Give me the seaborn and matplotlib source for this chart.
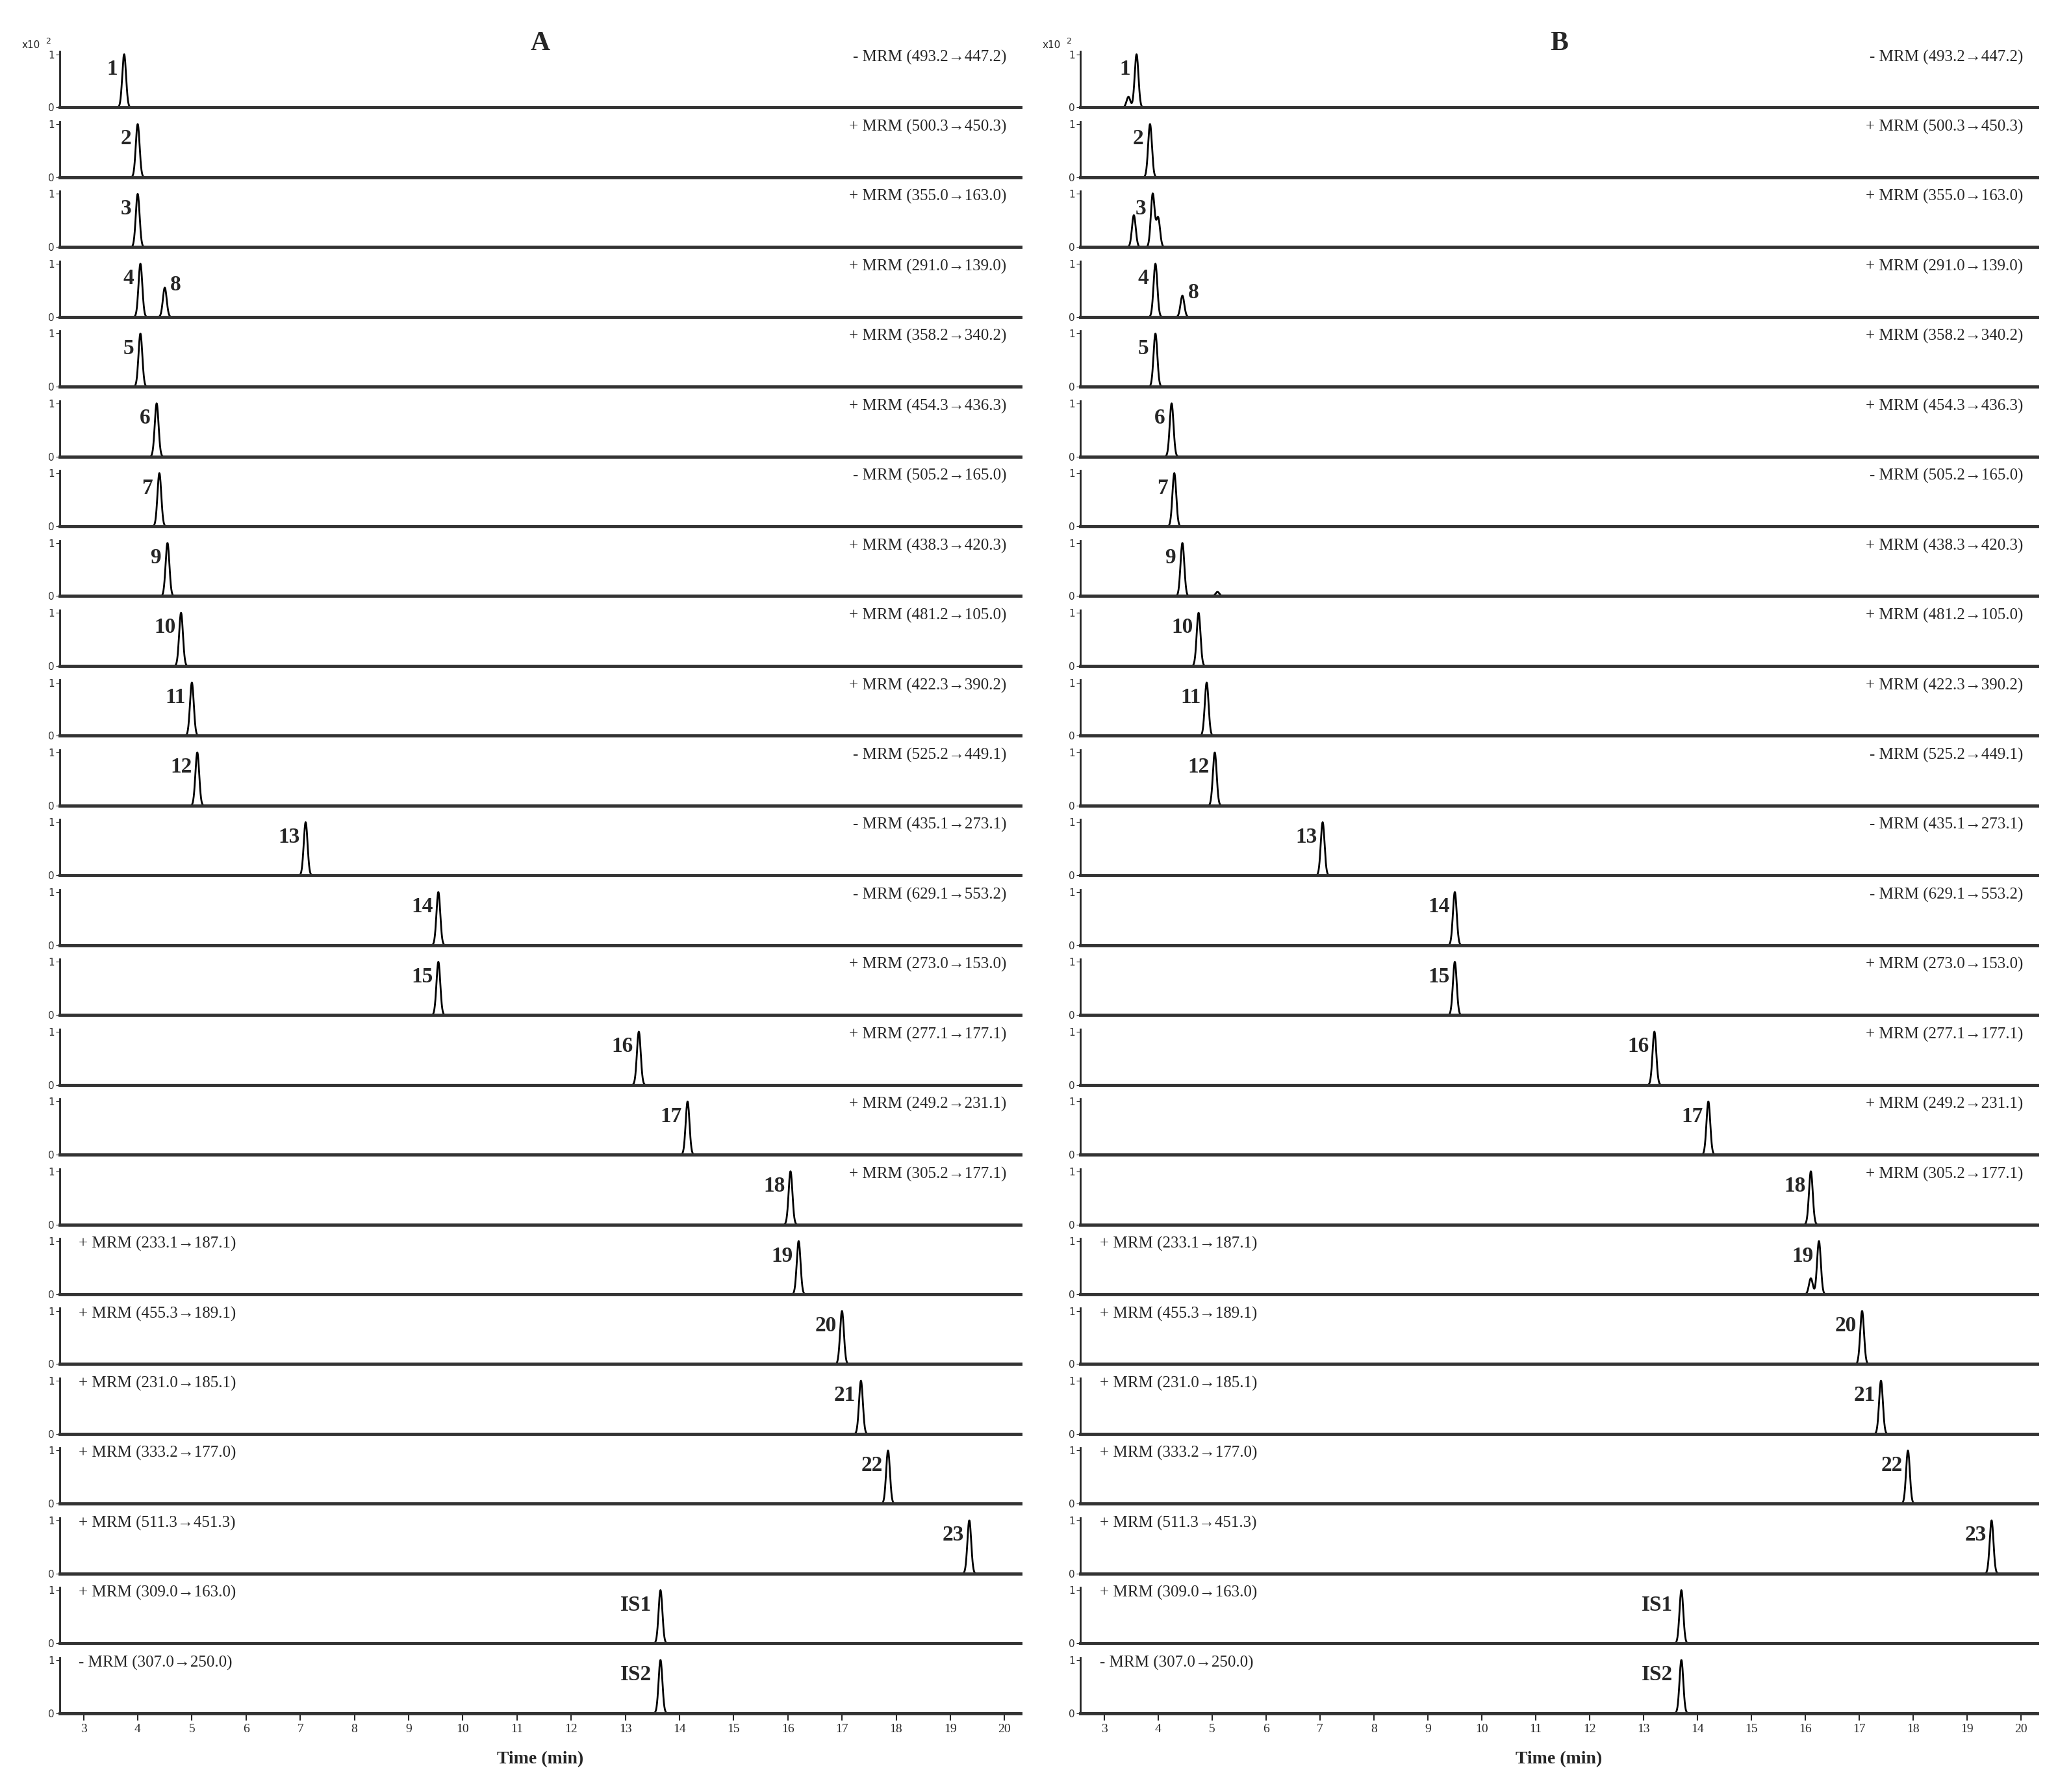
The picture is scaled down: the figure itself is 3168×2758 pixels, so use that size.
import numpy as np
import pandas as pd
import matplotlib
matplotlib.use("Agg")
import matplotlib.pyplot as plt
import seaborn as sns

sns.set_style("white")
plt.rcParams['font.family'] = ['Liberation Serif', 'DejaVu Serif']

mrm = ["- MRM (493.2\u2192447.2)", "+ MRM (500.3\u2192450.3)", "+ MRM (355.0\u2192163.0)",
       "+ MRM (291.0\u2192139.0)", "+ MRM (358.2\u2192340.2)", "+ MRM (454.3\u2192436.3)",
       "- MRM (505.2\u2192165.0)", "+ MRM (438.3\u2192420.3)", "+ MRM (481.2\u2192105.0)",
       "+ MRM (422.3\u2192390.2)", "- MRM (525.2\u2192449.1)", "- MRM (435.1\u2192273.1)",
       "- MRM (629.1\u2192553.2)", "+ MRM (273.0\u2192153.0)", "+ MRM (277.1\u2192177.1)",
       "+ MRM (249.2\u2192231.1)", "+ MRM (305.2\u2192177.1)", "+ MRM (233.1\u2192187.1)",
       "+ MRM (455.3\u2192189.1)", "+ MRM (231.0\u2192185.1)", "+ MRM (333.2\u2192177.0)",
       "+ MRM (511.3\u2192451.3)", "+ MRM (309.0\u2192163.0)", "- MRM (307.0\u2192250.0)"]
mrm = mrm[:23] if False else mrm
row_labels = ["1", "2", "3", "4", "5", "6", "7", "9", "10", "11", "12", "13", "14", "15",
              "16", "17", "18", "19", "20", "21", "22", "23", "IS1", "IS2"]
# 24 rows? reference shows 23 rows + ... count
# main peak retention times (min)
rt_A = [3.75, 4.0, 4.0, 4.05, 4.05, 4.35, 4.4, 4.55, 4.8, 5.0, 5.1, 7.1, 9.55, 9.55,
        13.25, 14.15, 16.05, 16.2, 17.0, 17.35, 17.85, 19.35, 13.65, 13.65]
rt_B = [3.6, 3.85, 3.9, 3.95, 3.95, 4.25, 4.3, 4.45, 4.75, 4.9, 5.05, 7.05, 9.5, 9.5,
        13.2, 14.2, 16.1, 16.25, 17.05, 17.4, 17.9, 19.45, 13.7, 13.7]
# extra peaks: (row, rt, height, label)
extra_A = [(3, 4.5, 0.55, "8")]
extra_B = [(0, 3.45, 0.2, ""), (2, 3.55, 0.6, ""), (2, 4.0, 0.55, ""),
           (3, 4.45, 0.4, "8"), (17, 16.1, 0.3, ""), (7, 5.1, 0.08, "")]

n = len(mrm)
fig = plt.figure(figsize=(31.68, 27.58), dpi=100)
top, bot = 0.979, 0.044
period = (top - bot) / n
cols = [(0.029, 0.467, 2.56, 20.3, rt_A, extra_A, "A"),
        (0.525, 0.465, 2.56, 20.3, rt_B, extra_B, "B")]
x = np.linspace(2.5, 20.5, 4000)
sig = 0.035

for left, width, x0, x1, rts, extras, title in cols:
    for i in range(n):
        ax = fig.add_axes([left, top - (i + 1) * period, width, period * 0.8])
        y = np.exp(-0.5 * ((x - rts[i]) / sig) ** 2)
        for (r, t, h, lab) in extras:
            if r == i:
                y = y + h * np.exp(-0.5 * ((x - t) / sig) ** 2)
        sns.lineplot(x=x, y=y, ax=ax, color="black", lw=2)
        ax.set_xlim(x0, x1)
        ax.set_ylim(0, 1.05)
        ax.set_yticks([0, 1])
        ax.set_yticklabels(["0", "1"], fontsize=11, family="DejaVu Sans", color="#333")
        ax.tick_params(axis="y", length=4, pad=2, left=True)
        for s in ["top", "right"]:
            ax.spines[s].set_visible(False)
        ax.spines["bottom"].set_linewidth(3.5)
        ax.spines["left"].set_linewidth(2)
        ax.spines["bottom"].set_color("#333")
        ax.spines["left"].set_color("#222")
        dx = 0.3 if len(row_labels[i]) > 1 else 0.22
        if row_labels[i].startswith("IS"):
            dx = 0.45
        ax.text(rts[i] - dx, 0.72, row_labels[i], fontsize=24, fontweight="bold",
                ha="center", va="center")
        for (r, t, h, lab) in extras:
            if r == i and lab:
                ax.text(t + 0.2, h + 0.05, lab, fontsize=24, fontweight="bold",
                        ha="center", va="center")
        if i < 17:
            ax.text(0.985, 0.9, mrm[i], transform=ax.transAxes, ha="right", va="center",
                    fontsize=18)
        else:
            ax.text(0.02, 0.9, mrm[i], transform=ax.transAxes, ha="left", va="center",
                    fontsize=18)
        if i < n - 1:
            ax.set_xticks([])
        else:
            ax.set_xticks(range(3, 21))
            ax.tick_params(axis="x", length=8, width=1.5, bottom=True, labelsize=14)
            ax.set_xlabel("Time (min)", fontsize=20, fontweight="bold", labelpad=18)
        if i == 0:
            ax.text(0.5, 1.15, title, transform=ax.transAxes, ha="center", va="center",
                    fontsize=30, fontweight="bold")
            ax.text(-0.03, 1.12, "x10", transform=ax.transAxes, ha="center", va="center",
                    fontsize=11, family="DejaVu Sans")
            ax.text(-0.012, 1.18, "2", transform=ax.transAxes, ha="center", va="center",
                    fontsize=9, family="DejaVu Sans")

fig.savefig("out.png", dpi=100, facecolor="white")
